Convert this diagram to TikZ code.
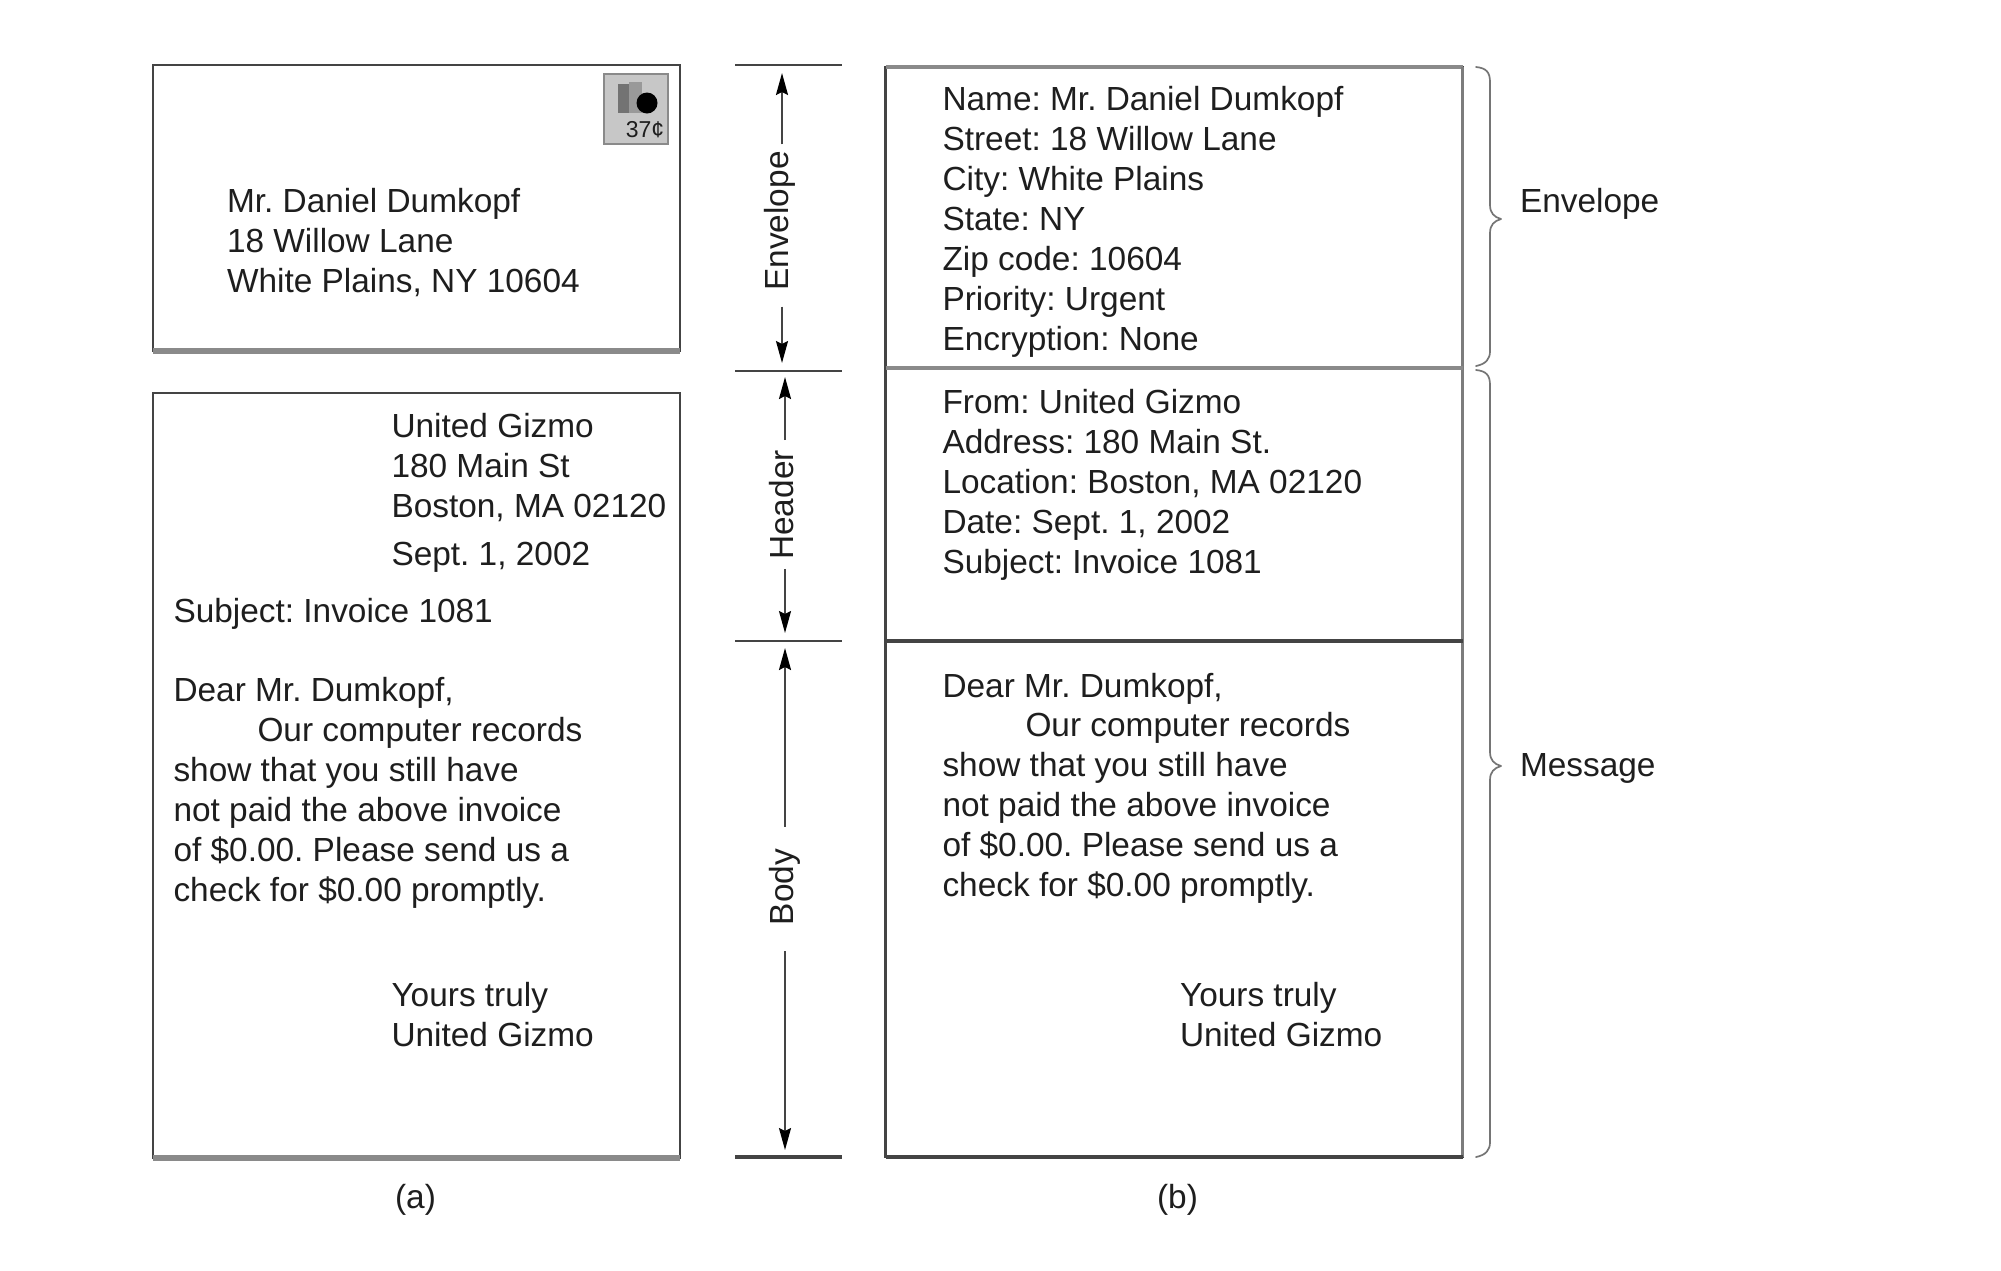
\documentclass[tikz,border=0pt]{standalone}
\usepackage{fontspec}
\setmainfont{Liberation Sans}
\usetikzlibrary{arrows.meta}
\definecolor{inkc}{HTML}{1E1E1E}
\definecolor{darkline}{HTML}{444444}
\definecolor{midline}{HTML}{8A8A8A}
\tikzset{
  x=1pt,y=-1pt,
  txt/.style={anchor=base west,inner sep=0pt,outer sep=0pt,align=left,text=inkc,font=\fontsize{33.4}{39.9}\selectfont\frenchspacing},
  panel/.style={draw=darkline,line width=2.4pt,inner sep=0pt,outer sep=0pt,fill=white},
  heavy/.style={line width=5.5pt,midline},
  dark/.style={line width=3.4pt,darkline},
  rule/.style={line width=2.6pt,darkline},
  dim/.style={line width=2pt,color=darkline,-{Stealth[length=22pt,width=12pt,inset=3pt,color=black]}},
  vlab/.style={rotate=90,inner sep=0pt,outer sep=0pt,text=inkc,font=\fontsize{33.4}{40}\selectfont},
  captxt/.style={inner sep=0pt,text=inkc,font=\fontsize{33.4}{40}\selectfont},
  bracec/.style={line width=1.7pt,color=midline!85!black,line cap=round,line join=round},
}
\begin{document}
\begin{tikzpicture}
\useasboundingbox (0,0) rectangle (2001,1270);
\fill[white] (0,0) rectangle (2001,1270);

% (a) envelope
\node[panel,minimum width=527pt,minimum height=286pt] (env) at (416.5,208) {};
\draw[heavy] (env.south west) -- (env.south east);
% stamp
\node[draw=midline,line width=2.5pt,fill=black!22,minimum width=64pt,minimum height=70pt,inner sep=0pt] (stamp) at (636,109) {};
\fill[black!55] (618,84) rectangle (629,113);
\fill[black!40] (629,82) rectangle (642,113);
\node[circle,fill=black,minimum size=21pt,inner sep=0pt] (dot) at (647,103) {};
\node[inner sep=0pt,text=inkc,font=\fontsize{23}{26}\selectfont] (cents) at (645,130) {37¢};

\node[txt] (addr) at (227,292) {Mr. Daniel Dumkopf\\18 Willow Lane\\White Plains, NY 10604};

% (a) letter
\node[panel,minimum width=527pt,minimum height=765pt] (letter) at (416.5,775.5) {};
\draw[heavy] (letter.south west) -- (letter.south east);
\node[txt] (sender) at (391.5,517) {United Gizmo\\180 Main St\\Boston, MA 02120};
\node[txt] (date) at (391.5,565.5) {Sept. 1, 2002};
\node[txt] (subj) at (173.5,622) {Subject: Invoice 1081};
\node[txt] (bodya) at (173.5,901) {Dear Mr. Dumkopf,\\\hspace*{84pt}Our computer records\\show that you still have\\not paid the above invoice\\of \$0.00. Please send us a\\check for \$0.00 promptly.};
\node[txt] (signa) at (391.5,1046.5) {Yours truly\\United Gizmo};
\node[captxt] (capa) at (415.5,1200) {(a)};

% rules
\coordinate (r1l) at (735,65);   \coordinate (r1r) at (842,65);
\coordinate (r2l) at (735,371);  \coordinate (r2r) at (842,371);
\coordinate (r3l) at (735,641);  \coordinate (r3r) at (842,641);
\coordinate (r4l) at (735,1157); \coordinate (r4r) at (842,1157);
\draw[rule] (r1l) -- (r1r);
\draw[rule] (r2l) -- (r2r);
\draw[rule] (r3l) -- (r3r);
\draw[dark] (r4l) -- (r4r);

% dimension labels
\coordinate (a1t) at (782,73);  \coordinate (a1b) at (782,363);
\coordinate (a2t) at (785,377); \coordinate (a2b) at (785,633);
\coordinate (a3t) at (785,648); \coordinate (a3b) at (785,1150);
\node[vlab] (lenv) at (780,221) {Envelope};
\node[vlab] (lhead) at (782,505) {Header};
\node[vlab] (lbody) at (785,887) {Body};
\draw[dim,shorten <=7pt] (lenv.east -| a1t) -- (a1t);
\draw[dim,shorten <=16pt] (lenv.west -| a1b) -- (a1b);
\draw[dim,shorten <=10pt] (lhead.east -| a2t) -- (a2t);
\draw[dim,shorten <=9pt] (lhead.west -| a2b) -- (a2b);
\draw[dim,shorten <=22pt] (lbody.east -| a3t) -- (a3t);
\draw[dim,shorten <=26pt] (lbody.west -| a3b) -- (a3b);

% (b)
\node[panel,minimum width=577pt,minimum height=1090pt] (msg) at (1174,612) {};
\draw[line width=4.5pt,midline] (msg.north west) -- (msg.north east);
\coordinate (sepal) at (msg.west |- 0,368); \coordinate (separ) at (msg.east |- 0,368);
\coordinate (sepbl) at (msg.west |- 0,641); \coordinate (sepbr) at (msg.east |- 0,641);
\draw[line width=3pt,midline!90!black] (msg.north east) -- (msg.south east);
\draw[line width=3.4pt,midline] (sepal) -- (separ);
\draw[dark] (sepbl) -- (sepbr);
\draw[dark] (msg.south west) -- (msg.south east);

\node[txt] (fields) at (942.5,350) {Name: Mr. Daniel Dumkopf\\Street: 18 Willow Lane\\City: White Plains\\State: NY\\Zip code: 10604\\Priority: Urgent\\Encryption: None};
\node[txt] (hdr) at (942.5,573) {From: United Gizmo\\Address: 180 Main St.\\Location: Boston, MA 02120\\Date: Sept. 1, 2002\\Subject: Invoice 1081};
\node[txt] (bodyb) at (942.5,896.5) {Dear Mr. Dumkopf,\\\hspace*{83pt}Our computer records\\show that you still have\\not paid the above invoice\\of \$0.00. Please send us a\\check for \$0.00 promptly.};
\node[txt] (signb) at (1180,1046.5) {Yours truly\\United Gizmo};
\node[captxt] (capb) at (1177.5,1200) {(b)};

% braces
\node[txt] (lblenv) at (1520,212) {Envelope};
\node[txt] (lblmsg) at (1520,776) {Message};
\draw[bracec] (1476,67) .. controls (1486,68) and (1490,72) .. (1490,82) -- (1490,205) .. controls (1490,213) and (1494,217) .. (1501,219) .. controls (1494,221) and (1490,225) .. (1490,233) -- (1490,351) .. controls (1490,359) and (1486,364) .. (1476,366);
\draw[bracec] (1476,370) .. controls (1486,371) and (1490,375) .. (1490,385) -- (1490,752) .. controls (1490,760) and (1494,764) .. (1501,766) .. controls (1494,768) and (1490,772) .. (1490,780) -- (1490,1142) .. controls (1490,1150) and (1486,1155) .. (1476,1157);
\end{tikzpicture}
\end{document}
